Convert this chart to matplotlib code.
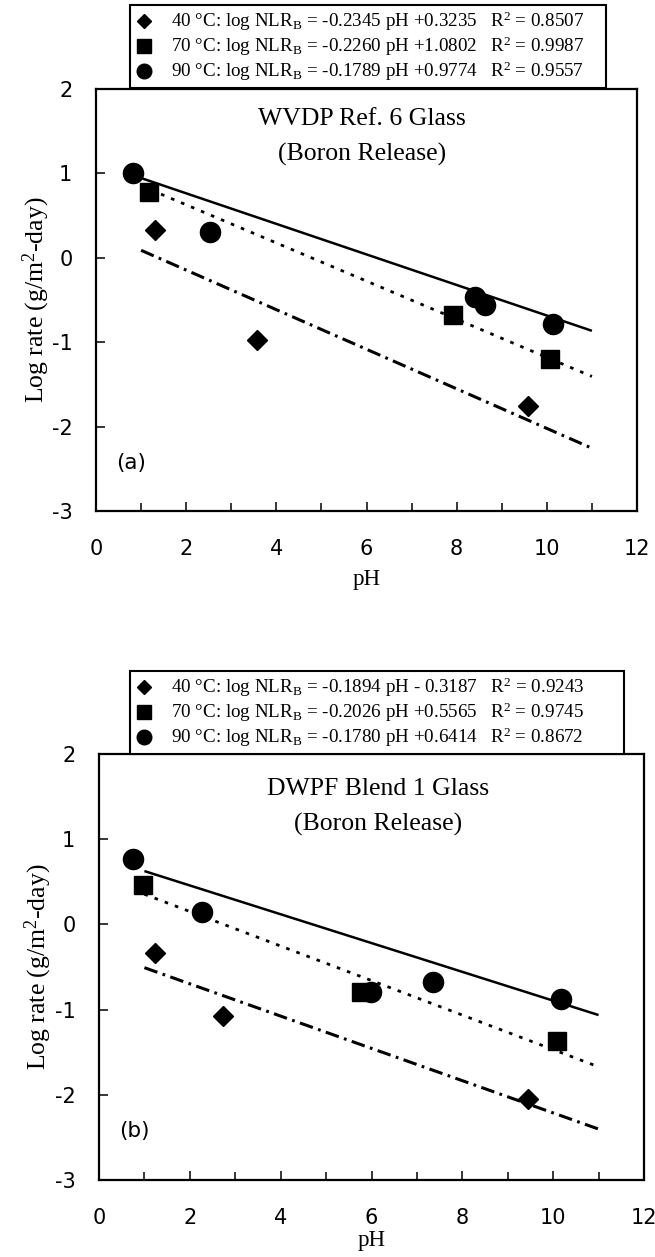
import matplotlib
matplotlib.use('Agg')
import matplotlib.pyplot as plt
from matplotlib.lines import Line2D
from matplotlib.ticker import MultipleLocator, FixedLocator
import numpy as np

SERIF = ['Liberation Serif', 'DejaVu Serif']
SANS = ['DejaVu Sans']
plt.rcParams['font.family'] = SERIF
plt.rcParams['mathtext.fontset'] = 'custom'
plt.rcParams['mathtext.rm'] = 'Liberation Serif'
plt.rcParams['mathtext.it'] = 'Liberation Serif:italic'
plt.rcParams['mathtext.bf'] = 'Liberation Serif:bold'
plt.rcParams['axes.unicode_minus'] = False

# ---------------- data ----------------
temps = [40, 70, 90]

# panel (a) WVDP Ref. 6 Glass
a_ph_40 = [1.31, 3.58, 9.59]
a_rate_40 = [0.33, -0.97, -1.76]
a_ph_70 = [1.18, 7.92, 10.07]
a_rate_70 = [0.78, -0.68, -1.20]
a_ph_90 = [0.82, 2.53, 8.40, 8.62, 10.13]
a_rate_90 = [1.01, 0.30, -0.46, -0.56, -0.78]
a_eq_slope = [-0.2345, -0.2260, -0.1789]
a_eq_intercept = [0.3235, 1.0802, 0.9774]
a_r2 = [0.8507, 0.9987, 0.9557]
a_line_slope = [-0.2345, -0.2260, -0.181]
a_line_intercept = [0.3235, 1.0802, 1.126]

# panel (b) DWPF Blend 1 Glass
b_ph_40 = [1.24, 2.72, 9.44]
b_rate_40 = [-0.33, -1.07, -2.05]
b_ph_70 = [0.96, 5.76, 10.08]
b_rate_70 = [0.46, -0.79, -1.37]
b_ph_90 = [0.74, 2.27, 5.98, 7.35, 10.17]
b_rate_90 = [0.77, 0.15, -0.79, -0.68, -0.88]
b_eq_slope = [-0.1894, -0.2026, -0.1780]
b_eq_intercept = [-0.3187, 0.5565, 0.6414]
b_r2 = [0.9243, 0.9745, 0.8672]
b_line_slope = [-0.1894, -0.2026, -0.169]
b_line_intercept = [-0.3187, 0.5565, 0.795]

line_ph_range = [1, 11]
x_ticks = [0, 2, 4, 6, 8, 10, 12]
y_ticks = [-3, -2, -1, 0, 1, 2]

titles_a = ['WVDP Ref. 6 Glass', '(Boron Release)']
titles_b = ['DWPF Blend 1 Glass', '(Boron Release)']

# ---------------- styles ----------------
markers = ['D', 's', 'o']
msizes = [10, 13.2, 14.5]
leg_msizes = [7, 9.5, 10.5]
line_styles = [(0, (4.5, 1.8, 0.9, 1.8)), (0, (1.3, 2.6)), '-']
line_widths = [2.2, 2.0, 1.8]


def label_for(t, m, b, r2):
    if b >= 0:
        bs = '+%.4f' % b
    else:
        bs = '- %.4f' % abs(b)
    return ('%d \u00b0C: log NLR$_\\mathregular{B}$ = %.4f pH %s   '
            'R$^\\mathregular{2}$ = %.4f' % (t, m, bs, r2))


def draw_panel(fig, rect, ph_list, rate_list, line_m, line_b, eq_m, eq_b, r2,
               titles, title_x, title_y, tag, leg_rect, xlabel_y):
    ax = fig.add_axes(rect)
    xs = np.array(line_ph_range, dtype=float)
    handles = []
    for i in range(3):
        ax.plot(xs, line_b[i] + line_m[i] * xs, color='black',
                linestyle=line_styles[i], linewidth=line_widths[i],
                solid_capstyle='butt', dash_capstyle='butt', zorder=2)
        ax.plot(ph_list[i], rate_list[i], linestyle='none', marker=markers[i],
                markersize=msizes[i], color='black', zorder=3)
        handles.append(Line2D([], [], linestyle='none', marker=markers[i],
                              markersize=leg_msizes[i], color='black',
                              label=label_for(temps[i], eq_m[i], eq_b[i], r2[i])))
    ax.set_xlim(0, 12)
    ax.set_ylim(-3, 2)
    ax.xaxis.set_major_locator(FixedLocator(x_ticks))
    ax.xaxis.set_minor_locator(MultipleLocator(1))
    ax.yaxis.set_major_locator(FixedLocator(y_ticks))
    ax.tick_params(axis='x', which='major', direction='in', length=6.5, width=1.1,
                   pad=20, labelsize=15, top=False)
    ax.tick_params(axis='x', which='minor', direction='in', length=5.5, width=1.1,
                   top=False)
    ax.tick_params(axis='y', which='major', direction='in', length=6.5, width=1.1,
                   pad=17, labelsize=15, right=False)
    for lab in ax.get_xticklabels() + ax.get_yticklabels():
        lab.set_fontfamily(SANS)
    for sp in ax.spines.values():
        sp.set_linewidth(1.6)
    ax.set_xlabel('pH', fontsize=16.5)
    ax.xaxis.set_label_coords(0.5, xlabel_y)
    ax.xaxis.label.set_va('center')
    ax.set_ylabel('Log rate (g/m$^\\mathregular{2}$-day)', fontsize=18.5)
    ax.yaxis.set_label_coords(-0.111, 0.5)
    ax.yaxis.label.set_va('center')
    ax.text(title_x, title_y[0], titles[0], ha='center', va='center', fontsize=18.5)
    ax.text(title_x, title_y[1], titles[1], ha='center', va='center', fontsize=18.5)
    ax.text(0.78, -2.43, tag, ha='center', va='center', fontsize=15.5,
            fontfamily=SANS)
    leg = ax.legend(handles=handles, loc='lower left', mode='expand',
                    bbox_to_anchor=leg_rect, bbox_transform=fig.transFigure,
                    borderaxespad=0, fontsize=13.7, frameon=True, fancybox=False,
                    framealpha=1, edgecolor='black', handlelength=1.0,
                    handletextpad=0.9, labelspacing=0.08, borderpad=0.25)
    leg.get_frame().set_linewidth(1.5)
    leg.set_zorder(5)
    return ax


W, H = 655, 1257
fig = plt.figure(figsize=(W / 100, H / 100), dpi=100)

draw_panel(fig, [96 / W, 1 - 511 / H, 541 / W, 422 / H],
           [a_ph_40, a_ph_70, a_ph_90], [a_rate_40, a_rate_70, a_rate_90],
           a_line_slope, a_line_intercept, a_eq_slope, a_eq_intercept, a_r2,
           titles_a, 5.9, (1.65, 1.23), '(a)',
           (130 / W, 1 - 88 / H, 476 / W, 82 / H), -0.163)

draw_panel(fig, [99 / W, 1 - 1180 / H, 545 / W, 426 / H],
           [b_ph_40, b_ph_70, b_ph_90], [b_rate_40, b_rate_70, b_rate_90],
           b_line_slope, b_line_intercept, b_eq_slope, b_eq_intercept, b_r2,
           titles_b, 6.15, (1.59, 1.17), '(b)',
           (130 / W, 1 - 754 / H, 494 / W, 81 / H), -0.142)

fig.savefig('out.png', dpi=100)
